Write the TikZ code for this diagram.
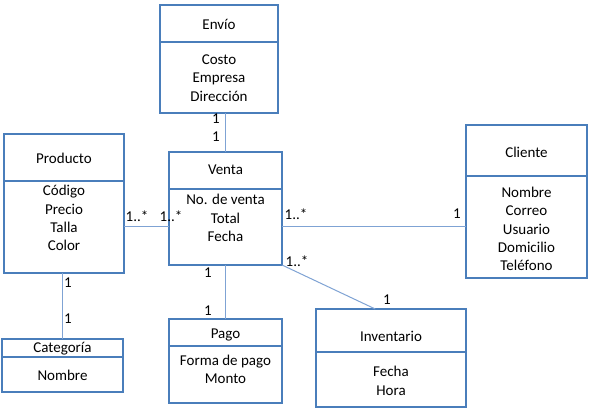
\documentclass[tikz,border=0pt]{standalone}
\usepackage{fontspec}
\setmainfont{Carlito}
\usetikzlibrary{calc}
\definecolor{umlblue}{HTML}{4A7EBB}
\definecolor{linkblue}{HTML}{7FA3D4}
\tikzset{
  frame/.style={draw=umlblue, line width=1.5pt, inner sep=0pt, outer sep=0pt},
  txt/.style={font=\fontsize{15}{18.3}\selectfont, align=center, inner sep=0pt},
  mult/.style={font=\fontsize{15}{17}\selectfont, inner sep=0pt},
  link/.style={draw=linkblue, line width=1pt}
}
\newcommand\umlrect[5]{\node[frame, minimum width={#4-#2}, minimum height={#5-#3}] (#1) at ({(#2+#4)/2},{(#3+#5)/2}) {};}
\begin{document}
\begin{tikzpicture}[x=1pt,y=-1pt]
\path[use as bounding box, fill=white] (0,0) rectangle (598,411);
% boxes
\umlrect{envioH}{160}{5}{278}{42}
\umlrect{envioB}{160}{42}{278}{113}
\umlrect{ventaH}{169}{152}{282}{189}
\umlrect{ventaB}{169}{189}{282}{265}
\umlrect{prodH}{4}{134}{124}{181}
\umlrect{prodB}{4}{181}{124}{273}
\umlrect{clienteH}{466}{125}{587}{176}
\umlrect{clienteB}{466}{176}{587}{278}
\umlrect{catH}{2}{339}{123}{357}
\umlrect{catB}{2}{357}{123}{392}
\umlrect{pagoH}{169}{319}{282}{346}
\umlrect{pagoB}{169}{346}{282}{403}
\umlrect{invH}{316}{309}{466}{352}
\umlrect{invB}{316}{352}{466}{407}
% texts
\node[txt] (envioT) at (219,24) {Envío};
\node[txt] (envioA) at (219,78) {Costo\\Empresa\\Dirección};
\node[txt] (ventaT) at (225.5,170) {Venta};
\node[txt] (ventaA) at (225.5,218) {No. de venta\\Total\\Fecha};
\node[txt] (prodT) at (64,158) {Producto};
\node[txt] (prodA) at (64,218) {Código\\Precio\\Talla\\Color};
\node[txt] (clienteT) at (526.5,152) {Cliente};
\node[txt] (clienteA) at (526.5,229) {Nombre\\Correo\\Usuario\\Domicilio\\Teléfono};
\node[txt] (catT) at (62.5,349) {Categoría};
\node[txt] (catA) at (62.5,375) {Nombre};
\node[txt] (pagoT) at (225.5,335) {Pago};
\node[txt] (pagoA) at (225.5,369.5) {Forma de pago\\Monto};
\node[txt] (invT) at (391,336.5) {Inventario};
\node[txt] (invA) at (391,381) {Fecha\\Hora};
% connectors
\coordinate (invTop) at ($(invH.north west)!0.395!(invH.north east)$);
\draw[link] (ventaH.north |- envioB.south) -- (ventaH.north);
\draw[link] (prodB.east) -- (ventaB.west);
\draw[link] (ventaB.east) -- (clienteB.west);
\draw[link] (ventaB.south east) -- (invTop);
\draw[link] (ventaB.south) -- (pagoH.north);
\draw[link] (catH.north |- prodB.south) -- (catH.north);
% multiplicities
\node[mult] (m1) at (216,119) {1};
\node[mult] (m2) at (216,137) {1};
\node[mult] (m3) at (137,216) {1..*};
\node[mult] (m4) at (171,216) {1..*};
\node[mult] (m5) at (296,214) {1..*};
\node[mult] (m6) at (457,214) {1};
\node[mult] (m7) at (297,261) {1..*};
\node[mult] (m8) at (387,300) {1};
\node[mult] (m9) at (208,273) {1};
\node[mult] (m10) at (208,311) {1};
\node[mult] (m11) at (68,283) {1};
\node[mult] (m12) at (68,319) {1};
\end{tikzpicture}
\end{document}
